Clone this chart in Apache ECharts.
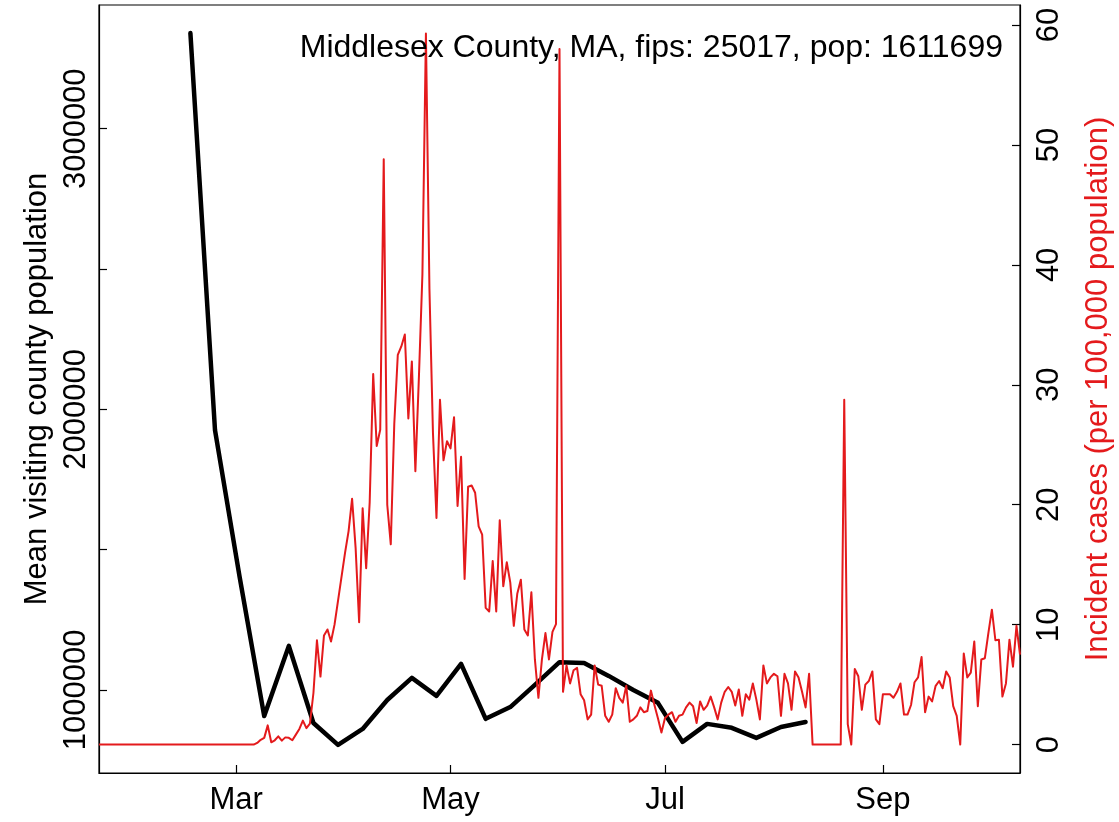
<!DOCTYPE html>
<html><head><meta charset="utf-8">
<script src="https://cdn.jsdelivr.net/npm/echarts@6/dist/echarts.min.js"></script>
<style>html,body{margin:0;padding:0;background:#fff}#c{width:1119px;height:822px}</style>
</head><body><div id="c"></div>
<script>
// ---- data ----
const startDate = [2020, 0, 22];   // first day of the daily series
const nDays = 263;
const categories = [];
for (let i = 0; i < nDays; i++) {
  categories.push(new Date(Date.UTC(startDate[0], startDate[1], startDate[2] + i)).toISOString().slice(0, 10));
}
// Daily incident cases per 100,000 (Jan 22 .. Oct 10, 2020)
const incidentCases = [
  0,0,0,0,0,0,0,0,0,0, 0,0,0,0,0,0,0,0,0,0, 0,0,0,0,0,0,0,0,0,0,
  0,0,0,0,0,0,0,0,0,0, 0,0,0,0,0,
  0.14,0.4,0.56,1.6,0.19,0.36,0.69,0.33,0.6,0.56,0.36,0.83,1.3,2.0,1.37,1.75,
  4.3,8.7,5.67,9.1,9.6,8.6,10.0,12.0,14.0,16.0,17.8,20.5,16.4,10.2,19.7,14.7,20.2,
  30.9,24.9,26.25,48.8,20.0,16.7,26.75,32.5,33.2,34.2,27.2,31.95,22.8,30.6,39.2,59.3,
  38,26,
  18.9,28.75,23.7,25.3,24.7,27.3,19.9,24.0,13.8,21.5,21.6,21.0,18.2,17.5,11.4,11.1,15.3,11.1,
  18.7,13.2,15.2,13.5,9.9,12.6,13.75,9.6,9.1,12.7,7.1,3.9,7.1,9.3,7.1,9.4,10.05,
  58,
  4.4,6.6,5.1,6.2,6.4,4.2,3.7,2.1,2.5,6.6,5.0,4.9,2.4,1.9,2.5,4.7,3.9,3.5,4.9,1.9,2.1,2.4,
  3.1,2.7,2.8,4.5,3.3,2.2,1.0,2.2,2.5,2.7,1.9,2.4,2.5,3.1,3.5,
  3.2,1.8,3.6,2.9,3.25,4.0,3.1,2.1,3.5,4.4,4.8,4.4,3.25,4.6,2.4,4.2,3.75,5.1,3.75,2.1,6.6,
  5.1,5.6,5.9,5.7,2.4,5.9,5.1,2.9,6.1,5.6,4.4,3.1,5.9,
  0,0,0,0,0,0,0,0,0,
  28.75,1.7,0,6.3,5.7,2.9,5.0,5.3,6.1,2.1,1.7,4.2,4.2,4.2,3.9,4.4,5.1,2.5,2.5,3.3,5.2,5.6,
  7.3,2.7,4.0,3.6,4.9,5.3,4.7,6.1,5.6,3.2,2.4,0,7.6,5.6,6.0,8.6,3.2,7.1,7.2,9.3,11.25,8.7,
  8.75,4.0,5.1,8.75,6.5,9.9,7.5
];
// Weekly mean visiting county population
const visitDates = ['2020-02-17','2020-02-24','2020-03-02','2020-03-09','2020-03-16','2020-03-23','2020-03-30',
  '2020-04-06','2020-04-13','2020-04-20','2020-04-27','2020-05-04','2020-05-11','2020-05-18','2020-05-25',
  '2020-06-01','2020-06-08','2020-06-15','2020-06-22','2020-06-29','2020-07-06','2020-07-13','2020-07-20',
  '2020-07-27','2020-08-03','2020-08-10'];
const visitPop = [3341000,1926000,1403000,907000,1157000,882000,804000,861000,964000,1043000,979000,
  1093000,897000,939000,1018000,1099000,1096000,1050000,1000000,954000,815000,879000,865000,829000,868000,886000];
const xTickDates = ['2020-03-01','2020-05-01','2020-07-01','2020-09-01'];
const xTickLabels = ['Mar','May','Jul','Sep'];
const leftTicks = [1000000,1500000,2000000,2500000,3000000];
const leftLabels = [1000000,2000000,3000000];
const rightTicks = [0,10,20,30,40,50,60];
const titleText = 'Middlesex County, MA, fips: 25017, pop: 1611699';

// ---- chart ----
const FONT = '"Liberation Sans", Arial, Helvetica, sans-serif';
const RED = '#e41a1c';
const visitMap = {};
visitDates.forEach((d, i) => { visitMap[d] = visitPop[i]; });
const blackSeries = categories.map(d => (d in visitMap ? visitMap[d] : null));
const isTick = (i, v) => xTickDates.indexOf(v) >= 0;

const chart = echarts.init(document.getElementById('c'), null, {renderer: 'canvas'});
chart.setOption({
  animation: false,
  backgroundColor: '#fff',
  textStyle: {fontFamily: FONT},
  title: {
    text: titleText, right: 111, top: 27,
    textStyle: {fontFamily: FONT, fontSize: 32, fontWeight: 'normal', color: '#000'}
  },
  grid: {left: 99, right: 99, top: 5, bottom: 49, containLabel: false, outerBoundsMode: 'none',
    show: true, borderColor: '#000', borderWidth: 1.2, backgroundColor: 'transparent'},
  xAxis: {
    type: 'category', data: categories, boundaryGap: false,
    axisLine: {show: true, onZero: false, lineStyle: {color: '#000', width: 1.2}},
    axisTick: {show: true, inside: true, length: 8, interval: isTick, lineStyle: {color: '#000', width: 1.2}},
    axisLabel: {interval: isTick, formatter: v => xTickLabels[xTickDates.indexOf(v)],
      fontFamily: FONT, fontSize: 31, color: '#000', margin: 12},
    splitLine: {show: false}
  },
  yAxis: [{
    type: 'value', position: 'left', min: 704000, max: 3441000,
    axisLine: {show: true, onZero: false, lineStyle: {color: '#000', width: 1.2}},
    axisTick: {show: true, inside: true, length: 8, customValues: leftTicks, lineStyle: {color: '#000', width: 1.2}},
    axisLabel: {customValues: leftLabels, rotate: 90, formatter: v => String(v),
      fontFamily: FONT, fontSize: 31, color: '#000', margin: 7},
    splitLine: {show: false},
    name: 'Mean visiting county population', nameLocation: 'middle', nameGap: 46,
    nameTextStyle: {fontFamily: FONT, fontSize: 31, color: '#000'}
  }, {
    type: 'value', position: 'right', min: -2.37, max: 61.67,
    axisLine: {show: true, onZero: false, lineStyle: {color: '#000', width: 1.2}},
    axisTick: {show: true, inside: true, length: 8, customValues: rightTicks, lineStyle: {color: '#000', width: 1.2}},
    axisLabel: {customValues: rightTicks, rotate: 90, formatter: v => String(v),
      fontFamily: FONT, fontSize: 31, color: '#000', margin: 14},
    splitLine: {show: false},
    name: 'Incident cases (per 100,000 population)', nameLocation: 'middle', nameGap: 63,
    nameTextStyle: {fontFamily: FONT, fontSize: 31, color: RED}
  }],
  series: [{
    type: 'line', yAxisIndex: 0, data: blackSeries, connectNulls: true, showSymbol: false,
    lineStyle: {color: '#000', width: 4.5, cap: 'round', join: 'round'}, z: 2, silent: true
  }, {
    type: 'line', yAxisIndex: 1, data: incidentCases, showSymbol: false,
    lineStyle: {color: RED, width: 2, join: 'round'}, z: 3, silent: true
  }]
});
</script>
</body></html>
